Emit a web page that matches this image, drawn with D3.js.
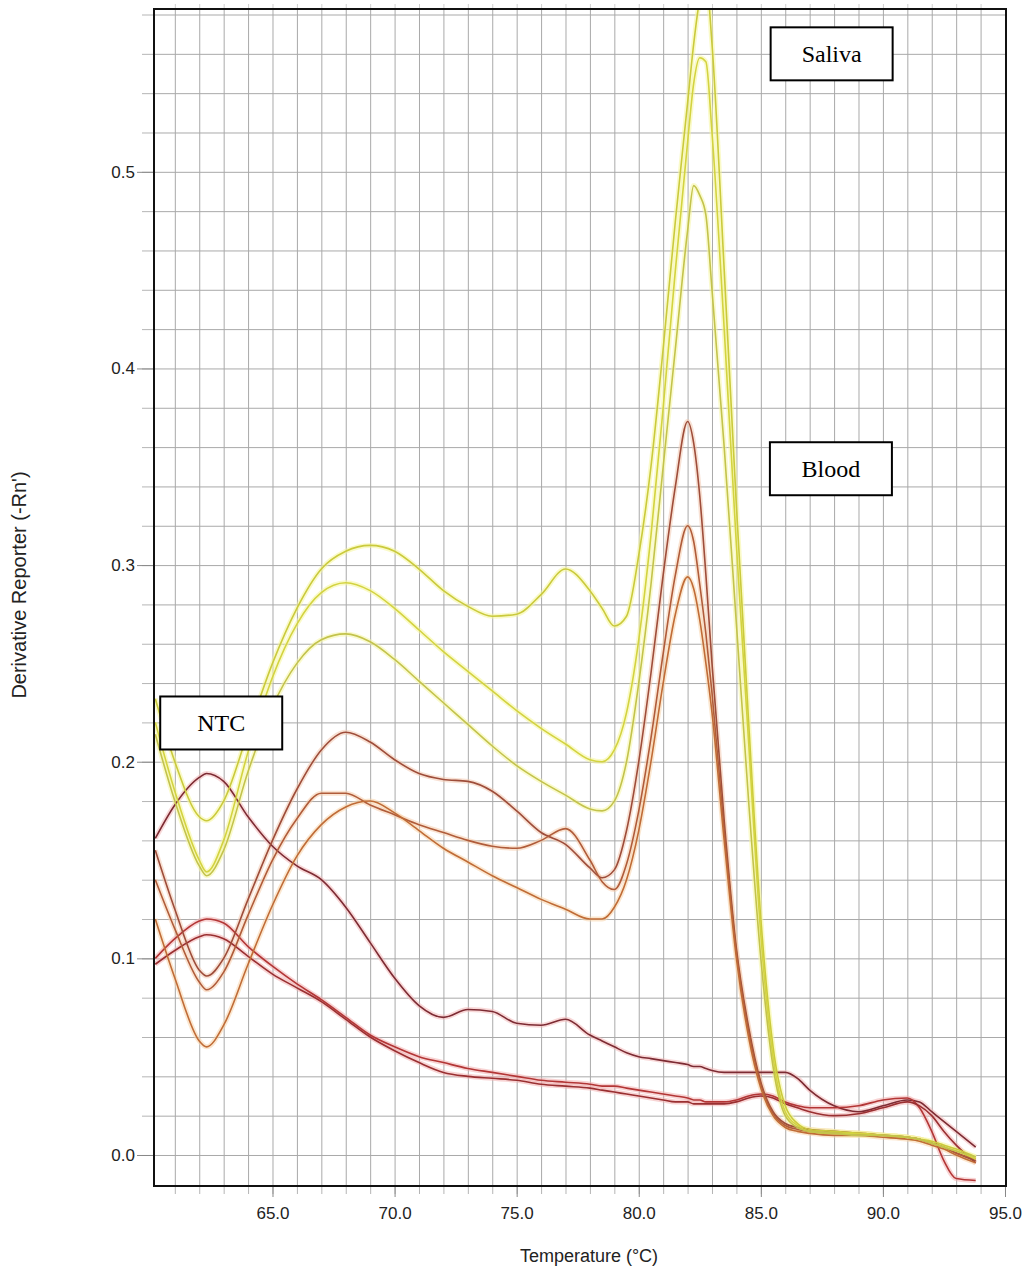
<!DOCTYPE html>
<html>
<head>
<meta charset="utf-8">
<script src="https://cdn.jsdelivr.net/npm/d3@7"></script>
<style>
  body { margin: 0; background: #fff; }
  svg { display: block; }
</style>
</head>
<body>
<svg id="chart"></svg>
<script>
// melt curve derivatives (temperature in °C)
const temps = [60.2, 61, 62, 62.3, 63, 64, 65, 66, 67, 68, 69, 70, 71, 72, 73, 74, 75, 76, 77, 78, 78.5, 79, 79.5, 80, 80.5, 81, 81.5, 82, 82.25, 82.5, 82.75, 83, 83.5, 84, 84.5, 85, 85.5, 86, 86.5, 87, 88, 89, 90, 91, 91.5, 92, 92.5, 93, 93.8];

// saliva samples
const salivaA = [.232, .200, .172, .170, .180, .215, .250, .278, .298, .307, .310, .307, .298, .287, .279, .274, .275, .285, .298, .287, .278, .269, .274, .305, .350, .410, .475, .535, .565, .588, .598, .565, .450, .330, .220, .120, .055, .025, .016, .013, .012, .011, .010, .009, .008, .007, .005, .003, -.001];
const salivaB = [.220, .185, .150, .144, .160, .205, .243, .270, .286, .291, .287, .278, .267, .256, .246, .236, .226, .217, .209, .201, .200, .206, .225, .262, .315, .380, .450, .515, .545, .558, .556, .520, .420, .310, .210, .112, .050, .022, .015, .012, .011, .011, .010, .009, .008, .006, .004, .002, -.002];
const salivaC = [.214, .180, .147, .142, .155, .195, .228, .250, .262, .265, .261, .252, .241, .230, .219, .208, .198, .190, .183, .176, .175, .180, .200, .240, .290, .350, .410, .470, .493, .488, .478, .440, .360, .270, .180, .100, .045, .020, .014, .012, .011, .010, .010, .009, .008, .006, .004, .002, -.001];

// blood samples
const bloodA = [.155, .125, .094, .091, .100, .130, .160, .186, .206, .215, .210, .201, .194, .191, .190, .185, .175, .164, .158, .146, .141, .145, .165, .200, .245, .295, .340, .373, .362, .335, .295, .250, .170, .105, .065, .037, .022, .016, .014, .013, .012, .011, .010, .009, .008, .006, .004, .001, -.003];
const bloodB = [.140, .115, .088, .084, .093, .122, .150, .171, .184, .184, .178, .173, .168, .164, .160, .157, .156, .160, .166, .150, .139, .135, .148, .175, .212, .255, .295, .320, .312, .290, .265, .235, .165, .103, .063, .036, .021, .015, .013, .012, .011, .011, .010, .009, .008, .006, .004, .001, -.002];
const bloodC = [.120, .090, .058, .055, .066, .097, .127, .152, .168, .177, .180, .174, .165, .156, .149, .142, .136, .130, .125, .120, .120, .126, .140, .165, .200, .240, .275, .294, .288, .272, .250, .225, .160, .100, .060, .034, .020, .014, .012, .011, .010, .010, .009, .008, .007, .005, .003, .000, -.004];

// no template controls
const ntcA = [.161, .178, .192, .194, .190, .172, .157, .147, .140, .126, .108, .090, .076, .070, .074, .073, .067, .066, .069, .061, .058, .055, .052, .050, .049, .048, .047, .046, .045, .045, .044, .043, .042, .042, .042, .042, .042, .042, .039, .033, .025, .022, .025, .028, .027, .022, .017, .012, .004];
const ntcB = [.100, .110, .119, .120, .118, .106, .096, .087, .079, .070, .061, .055, .050, .047, .044, .042, .040, .038, .037, .036, .035, .035, .034, .033, .032, .031, .030, .029, .028, .028, .027, .027, .027, .028, .030, .031, .030, .027, .025, .024, .024, .025, .028, .029, .024, .012, -.003, -.012, -.013];
const ntcC = [.097, .104, .111, .112, .110, .101, .092, .085, .078, .069, .060, .053, .047, .042, .040, .039, .038, .036, .035, .034, .033, .032, .031, .030, .029, .028, .027, .027, .026, .026, .026, .026, .026, .027, .029, .030, .029, .026, .024, .022, .020, .021, .024, .027, .025, .020, .012, .005, -.004];

const xTicks = [65, 70, 75, 80, 85, 90, 95];
const yTicks = [0, 0.1, 0.2, 0.3, 0.4, 0.5];

// text boxes on the plot
const labelNames = ["Saliva", "Blood", "NTC"];
const labelTemps = [87.9, 87.87, 62.9];
const labelValues = [0.56, 0.349, 0.2197];

const series = [
    { name: "ntcA", values: ntcA, color: "#7d2b33", halo: "#f3b8b8" },
    { name: "ntcB", values: ntcB, color: "#b33636", halo: "#f3b0b0" },
    { name: "ntcC", values: ntcC, color: "#9a2f31", halo: "#f3b0b0" },
    { name: "bloodA", values: bloodA, color: "#9e4d3a", halo: "#f3c8b0" },
    { name: "bloodB", values: bloodB, color: "#b05c3a", halo: "#f5ccac" },
    { name: "bloodC", values: bloodC, color: "#c06c37", halo: "#f7d3aa" },
    { name: "salivaA", values: salivaA, color: "#caca3c", halo: "#f6f69a" },
    { name: "salivaB", values: salivaB, color: "#d3d340", halo: "#f6f69a" },
    { name: "salivaC", values: salivaC, color: "#c3c34c", halo: "#f6f6a4" }
];

var w = 1025;
var h = 1274;
let margin = ({ top: 9, right: 19, bottom: 88, left: 154 });
var plotW = w - margin.left - margin.right;
var plotH = h - margin.top - margin.bottom;

var svg = d3.select("#chart")
    .attr("width", w)
    .attr("height", h)
    .style("font-family", "'Liberation Sans', Arial, sans-serif");

var xScale = d3.scaleLinear()
    .domain([60.147, 95.041])
    .range([margin.left, margin.left + plotW]);

var yScale = d3.scaleLinear()
    .domain([-0.01577, 0.5828])
    .range([margin.top + plotH, margin.top]);

svg.append("defs").append("clipPath")
    .attr("id", "plotClip")
    .append("rect")
    .attr("x", margin.left)
    .attr("y", margin.top)
    .attr("width", plotW)
    .attr("height", plotH);

// grid: every degree and every 0.02
let xGridVals = d3.range(61, 95, 1);
let yGridVals = d3.range(0, 0.581, 0.02);

svg.append("g")
    .attr("transform", `translate(0,${margin.top + plotH})`)
    .call(d3.axisBottom(xScale).tickValues(xGridVals).tickSize(-plotH).tickFormat(""))
    .call(g => g.select(".domain").remove())
    .call(g => g.selectAll("line").attr("stroke", "#a9a9a9"));

svg.append("g")
    .attr("transform", `translate(${margin.left},0)`)
    .call(d3.axisLeft(yScale).tickValues(yGridVals).tickSize(-plotW).tickFormat(""))
    .call(g => g.select(".domain").remove())
    .call(g => g.selectAll("line").attr("stroke", "#a9a9a9"));

// minor ticks outside the frame
svg.append("g")
    .attr("transform", `translate(${margin.left},0)`)
    .call(d3.axisLeft(yScale).tickValues(yGridVals).tickSize(12).tickFormat(""))
    .call(g => g.select(".domain").remove())
    .call(g => g.selectAll("line").attr("stroke", "#b5b5b5"));

svg.append("g")
    .attr("transform", `translate(0,${margin.top + plotH})`)
    .call(d3.axisBottom(xScale).tickValues(xGridVals.concat([95])).tickSize(8).tickFormat(""))
    .call(g => g.select(".domain").remove())
    .call(g => g.selectAll("line").attr("stroke", "#b5b5b5"));

svg.append("g")
    .attr("transform", `translate(0,${margin.top})`)
    .call(d3.axisTop(xScale).tickValues(xGridVals).tickSize(5).tickFormat(""))
    .call(g => g.select(".domain").remove())
    .call(g => g.selectAll("line").attr("stroke", "#d0d0d0"));

// major ticks and labels
let yAxis = g => g
    .attr("transform", `translate(${margin.left},0)`)
    .call(d3.axisLeft(yScale).tickValues(yTicks).tickSize(17).tickPadding(2).tickFormat(d3.format(".1f")))
    .call(g => g.select(".domain").remove())
    .call(g => g.selectAll("line").attr("stroke", "#888"))
    .call(g => g.selectAll("text").attr("fill", "#222").style("font-size", "17px"));

svg.append("g").call(yAxis);

let xAxis = g => g
    .attr("transform", `translate(0,${margin.top + plotH})`)
    .call(d3.axisBottom(xScale).tickValues(xTicks).tickSize(11).tickPadding(10).tickFormat(d3.format(".1f")))
    .call(g => g.select(".domain").remove())
    .call(g => g.selectAll("line").attr("stroke", "#888"))
    .call(g => g.selectAll("text").attr("fill", "#222").style("font-size", "17px"));

svg.append("g").call(xAxis);

// curves
let line = d3.line()
    .x((d, i) => xScale(temps[i]))
    .y(d => yScale(d))
    .curve(d3.curveMonotoneX);

const curves = svg.append("g").attr("clip-path", "url(#plotClip)");

curves.selectAll(".halo")
    .data(series)
    .join("path")
    .attr("class", "halo")
    .attr("d", d => line(d.values))
    .attr("fill", "none")
    .attr("stroke", d => d.halo)
    .attr("stroke-width", 5)
    .attr("stroke-opacity", 0.55);

curves.selectAll(".core")
    .data(series)
    .join("path")
    .attr("class", "core")
    .attr("d", d => line(d.values))
    .attr("fill", "none")
    .attr("stroke", d => d.color)
    .attr("stroke-width", 1.6);

// frame
svg.append("rect")
    .attr("x", margin.left)
    .attr("y", margin.top)
    .attr("width", plotW)
    .attr("height", plotH)
    .attr("fill", "none")
    .attr("stroke", "#111")
    .attr("stroke-width", 2);

// annotation boxes
let boxW = 122, boxH = 53;
let labels = svg.append("g")
    .selectAll("g")
    .data(labelNames)
    .join("g")
    .attr("transform", (d, i) => `translate(${xScale(labelTemps[i])},${yScale(labelValues[i])})`);

labels.append("rect")
    .attr("x", -boxW / 2)
    .attr("y", -boxH / 2)
    .attr("width", boxW)
    .attr("height", boxH)
    .attr("fill", "#fff")
    .attr("stroke", "#000")
    .attr("stroke-width", 2);

labels.append("text")
    .attr("text-anchor", "middle")
    .attr("dy", "0.35em")
    .style("font-family", "'Liberation Serif', 'Times New Roman', serif")
    .style("font-size", "24px")
    .text(d => d);

// axis titles
svg.append("text")
    .attr("x", 589)
    .attr("y", 1262)
    .attr("text-anchor", "middle")
    .attr("fill", "#222")
    .style("font-size", "18px")
    .text("Temperature (°C)");

svg.append("text")
    .attr("transform", "translate(26,585) rotate(-90)")
    .attr("text-anchor", "middle")
    .attr("fill", "#222")
    .style("font-size", "20px")
    .text("Derivative Reporter (-Rn')");
</script>
</body>
</html>
